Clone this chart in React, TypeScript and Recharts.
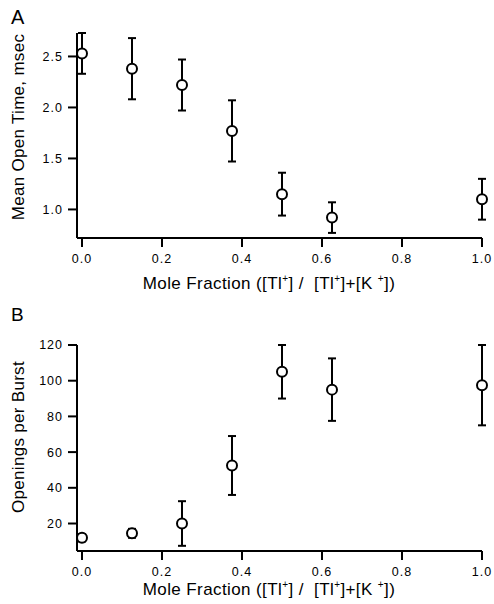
import React from 'react';
import { ScatterChart, Scatter, XAxis, YAxis, ErrorBar, Label } from 'recharts';

const moleFraction = [0, 0.125, 0.25, 0.375, 0.5, 0.625, 1.0];
const openTime = [2.53, 2.38, 2.22, 1.77, 1.15, 0.92, 1.1];
const openTimeErr = [0.2, 0.3, 0.25, 0.3, 0.21, 0.15, 0.2];
const openings = [12, 14.5, 20, 52.5, 105, 95, 97.5];
const openingsErr = [2, 2.5, 12.5, 16.5, 15, 17.5, 22.5];

const xTicks = [0, 0.2, 0.4, 0.6, 0.8, 1.0];
const openTimeTicks = [1.0, 1.5, 2.0, 2.5];
const openingsTicks = [20, 40, 60, 80, 100, 120];

const FONT = '"Liberation Sans", Arial, sans-serif';

const dataA = moleFraction.map((x, i) => ({ x, y: openTime[i], err: openTimeErr[i] }));
const dataB = moleFraction.map((x, i) => ({ x, y: openings[i], err: openingsErr[i] }));

const tickStyle = { fontSize: 12.5, fill: '#000', fontFamily: FONT, letterSpacing: 1 };
const axisLine = { stroke: '#000', strokeWidth: 2 };

const OpenCircle = (props: any) => (
  <circle cx={props.cx} cy={props.cy} r={5} fill="#fff" stroke="#000" strokeWidth={2} />
);

// x label with superscript plus signs
const xLabel = (dy: number) => (props: any) => {
  const vb = props.viewBox;
  return (
    <text
      x={vb.x + 192}
      y={vb.y + dy}
      textAnchor="middle"
      fontSize={17}
      letterSpacing={0.4}
      fontFamily={FONT}
      fill="#000"
      style={{ whiteSpace: 'pre' }}
    >
      <tspan>Mole Fraction ([Tl</tspan>
      <tspan fontSize={10} dy={-7}>+</tspan>
      <tspan dy={7}>] /  [Tl</tspan>
      <tspan fontSize={10} dy={-7}>+</tspan>
      <tspan dy={7}>]+[K </tspan>
      <tspan fontSize={10} dy={-7}>+</tspan>
      <tspan dy={7}>])</tspan>
    </text>
  );
};

const yLabel = (text: string, cy: number) => () => (
  <text
    x={18}
    y={cy}
    transform={`rotate(-90, 18, ${cy})`}
    textAnchor="middle"
    dominantBaseline="central"
    fontSize={17}
    letterSpacing={0.3}
    fontFamily={FONT}
    fill="#000"
  >
    {text}
  </text>
);

const App: React.FC = () => {
  return (
    <div style={{ position: 'absolute', left: 0, top: 0, width: 494, height: 604, background: '#fff' }}>
      <div style={{ position: 'relative', width: 494, height: 300 }}>
        <ScatterChart width={494} height={300} margin={{ top: 33, right: 12, bottom: 0, left: 0 }}>
          <XAxis
            type="number"
            dataKey="x"
            domain={[-0.0125, 1.0]}
            ticks={xTicks}
            tickFormatter={(v: number) => v.toFixed(1)}
            height={62}
            tick={tickStyle}
            tickSize={9}
            tickMargin={7}
            axisLine={axisLine}
            tickLine={axisLine}
          >
            <Label content={xLabel(51)} />
          </XAxis>
          <YAxis
            type="number"
            dataKey="y"
            domain={[0.72, 2.73]}
            ticks={openTimeTicks}
            tickFormatter={(v: number) => v.toFixed(1)}
            width={77}
            tick={tickStyle}
            tickSize={9}
            tickMargin={5}
            axisLine={axisLine}
            tickLine={axisLine}
          >
            <Label content={yLabel('Mean Open Time, msec', 127)} />
          </YAxis>
          <Scatter data={dataA} shape={OpenCircle} isAnimationActive={false}>
            <ErrorBar dataKey="err" direction="y" width={4} stroke="#000" strokeWidth={2} isAnimationActive={false} />
          </Scatter>
        </ScatterChart>
        <div style={{ position: 'absolute', left: 11, top: 6, fontSize: 20, fontFamily: FONT }}>A</div>
      </div>
      <div style={{ position: 'relative', width: 494, height: 304 }}>
        <ScatterChart width={494} height={304} margin={{ top: 45, right: 12, bottom: 0, left: 0 }}>
          <XAxis
            type="number"
            dataKey="x"
            domain={[-0.0125, 1.0]}
            ticks={xTicks}
            tickFormatter={(v: number) => v.toFixed(1)}
            height={53}
            tick={tickStyle}
            tickSize={9}
            tickMargin={7}
            axisLine={axisLine}
            tickLine={axisLine}
          >
            <Label content={xLabel(44)} />
          </XAxis>
          <YAxis
            type="number"
            dataKey="y"
            domain={[4.6, 120]}
            ticks={openingsTicks}
            width={77}
            tick={tickStyle}
            tickSize={9}
            tickMargin={5}
            axisLine={axisLine}
            tickLine={axisLine}
          >
            <Label content={yLabel('Openings per Burst', 137)} />
          </YAxis>
          <Scatter data={dataB} shape={OpenCircle} isAnimationActive={false}>
            <ErrorBar dataKey="err" direction="y" width={4} stroke="#000" strokeWidth={2} isAnimationActive={false} />
          </Scatter>
        </ScatterChart>
        <div style={{ position: 'absolute', left: 11, top: 4, fontSize: 19, fontFamily: FONT }}>B</div>
      </div>
    </div>
  );
};

export default App;
